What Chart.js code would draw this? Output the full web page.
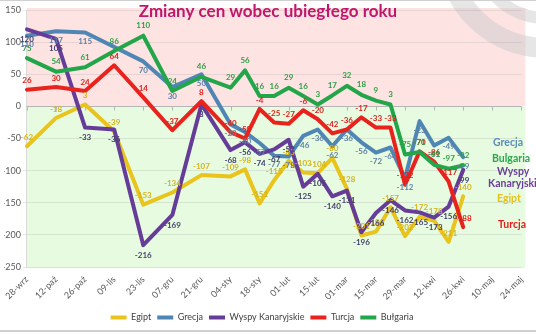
<!DOCTYPE html>
<html lang="pl">
<head>
<meta charset="UTF-8">
<title>Zmiany cen wobec ubiegłego roku</title>
<script src="https://cdn.jsdelivr.net/npm/chart.js@4/dist/chart.umd.min.js"></script>
<style>
  html, body { margin: 0; padding: 0; background: #fff; }
</style>
</head>
<body>
<canvas id="chart" width="536" height="332"></canvas>
<script>
// weekly dates; only every second one gets a tick label
const weeks = ['28-wrz', '05-paź', '12-paź', '19-paź', '26-paź', '02-lis', '09-lis', '16-lis', '23-lis', '30-lis',
  '07-gru', '14-gru', '21-gru', '28-gru', '04-sty', '11-sty', '18-sty', '25-sty', '01-lut', '08-lut',
  '15-lut', '22-lut', '01-mar', '08-mar', '15-mar', '22-mar', '29-mar', '05-kwi', '12-kwi', '19-kwi',
  '26-kwi', '03-maj', '10-maj', '17-maj', '24-maj'];

// values per week (null = no reading that week)
const egipt = [-62, null, -18, null, 3, null, -39, null, -153, null, -134, null, -107, null,
  -109, -98, -151, -115, -85, -103, -104, -80, -128, -201, -195, -157, -202, -172, -178, -211, -140,
  null, null, null, null];
const grecja = [110, null, 117, null, 115, null, null, null, 70, null, 30, null, 50, null,
  -28, -40, -57, -77, -78, -46, -36, -62, -36, -56, -72, -64, -112, -23, -61, -49, -79,
  null, null, null, null];
const wyspy = [120, null, 105, null, -33, null, -36, null, -216, null, -169, null, 3, null,
  -68, -56, -74, -67, -52, -125, -105, -140, -131, -196, -166, -146, -162, -165, -173, -156, -99,
  null, null, null, null];
const turcja = [26, null, 30, null, 24, null, 64, null, 14, null, -37, null, 8, null,
  -40, -50, -4, -25, -27, -6, -20, -42, -36, -17, -33, -33, -122, -70, -86, -117, -188,
  null, null, null, null];
const bulgaria = [75, null, 54, null, 61, null, 86, null, 110, null, 24, null, 46, null,
  29, 56, 16, 16, 29, 16, 3, 17, 32, 18, 9, 3, -75, -71, -91, -97, -92,
  null, null, null, null];

const yTicks = [150, 100, 50, 0, -50, -100, -150, -200, -250];

function line(label, data, color, textColor, labelDy, order) {
  return {
    label, data, order, labelDy, textColor,
    borderColor: color, backgroundColor: color,
    borderWidth: 4, pointRadius: 0, tension: 0,
    borderJoinStyle: 'round', borderCapStyle: 'round',
    spanGaps: true, fill: false
  };
}

// pink / green plot background + the faint grey rings top right
const backdrop = {
  id: 'backdrop',
  beforeDraw(chart) {
    const { ctx, chartArea: a, scales: { y } } = chart;
    const y0 = y.getPixelForValue(0);
    ctx.save();
    ctx.fillStyle = '#fff';
    ctx.fillRect(0, 0, chart.width, chart.height);
    ctx.fillStyle = '#fde4e3';
    ctx.fillRect(a.left, a.top - 2, a.right - a.left + 4, y0 - a.top + 2);
    ctx.fillStyle = '#e6fbe0';
    ctx.fillRect(a.left, y0, a.right - a.left + 4, a.bottom - y0 + 1);
    ctx.strokeStyle = 'rgba(200,200,200,0.45)';
    ctx.lineWidth = 20;
    ctx.beginPath();
    ctx.arc(546, -52, 100, 0, Math.PI);
    ctx.stroke();
    ctx.lineWidth = 12;
    ctx.beginPath();
    ctx.arc(546, -52, 70, 0, Math.PI);
    ctx.stroke();
    // thin frame lines top and bottom
    ctx.fillStyle = '#d0d0d0';
    ctx.fillRect(0, 0, chart.width, 1);
    ctx.fillRect(0, chart.height - 2, chart.width, 2);
    ctx.restore();
  },
  beforeDatasetsDraw(chart) {
    // category axis crosses at zero, with tick marks every two weeks
    const { ctx, chartArea: a, scales: { x, y } } = chart;
    const y0 = Math.round(y.getPixelForValue(0)) + 0.5;
    ctx.save();
    ctx.strokeStyle = '#b5b5b5';
    ctx.lineWidth = 1;
    ctx.beginPath();
    ctx.moveTo(a.left, y0);
    ctx.lineTo(a.right, y0);
    for (let i = 0; i < weeks.length; i += 2) {
      const px = Math.round(x.getPixelForValue(i)) + 0.5;
      ctx.moveTo(px, y0);
      ctx.lineTo(px, y0 + 4);
    }
    ctx.stroke();
    ctx.restore();
  }
};

// value labels next to every reading
const valueLabels = {
  id: 'valueLabels',
  afterDatasetsDraw(chart) {
    const ctx = chart.ctx;
    ctx.save();
    ctx.font = 'bold 8px Lato';
    ctx.textAlign = 'center';
    ctx.textBaseline = 'middle';
    chart.data.datasets.forEach((ds, i) => {
      const meta = chart.getDatasetMeta(i);
      ctx.fillStyle = ds.textColor;
      meta.data.forEach((pt, j) => {
        const v = ds.data[j];
        if (v === null) return;
        ctx.fillText(String(v), pt.x, pt.y + ds.labelDy);
      });
    });
    ctx.restore();
  }
};

// title and the series names on the right
const texts = {
  id: 'texts',
  afterDraw(chart) {
    const ctx = chart.ctx;
    ctx.save();
    ctx.font = 'bold 17px Lato';
    ctx.fillStyle = '#c0166c';
    ctx.textAlign = 'center';
    ctx.textBaseline = 'middle';
    ctx.fillText('Zmiany cen wobec ubiegłego roku', 268, 12);
    ctx.font = 'bold 10.5px Lato';
    ctx.textAlign = 'left';
    const names = [
      ['Grecja', '#5a8bbb', 493, 143],
      ['Bulgaria', '#2aa84a', 492, 159],
      ['Wyspy', '#6a3d9d', 497, 172],
      ['Kanaryjskie', '#6a3d9d', 488, 184],
      ['Egipt', '#e3c21c', 497, 199],
      ['Turcja', '#e0201c', 498, 225]
    ];
    names.forEach(([t, c, px, py]) => {
      ctx.fillStyle = c;
      ctx.fillText(t, px, py);
    });
    ctx.restore();
  }
};

new Chart(document.getElementById('chart'), {
  type: 'line',
  data: {
    labels: weeks,
    datasets: [
      line('Egipt', egipt, '#e8c41c', '#d6b41c', -9, 5),
      line('Grecja', grecja, '#4f86b4', '#5d80a8', 9, 4),
      line('Wyspy Kanaryjskie', wyspy, '#653d98', '#44406c', 10, 3),
      line('Turcja', turcja, '#e8231d', '#e0201b', -9, 2),
      line('Bułgaria', bulgaria, '#23a64a', '#2f9e45', -10, 1)
    ]
  },
  options: {
    responsive: false,
    animation: false,
    layout: { padding: { top: 10, right: 12, bottom: 0, left: 0 } },
    plugins: {
      tooltip: { enabled: false },
      legend: {
        position: 'bottom',
        labels: {
          usePointStyle: true,
          pointStyle: 'line',
          pointStyleWidth: 16,
          boxHeight: 10,
          padding: 6,
          color: '#404040',
          font: { family: 'Lato', size: 9 },
          sort: (a, b) => a.datasetIndex - b.datasetIndex
        }
      }
    },
    scales: {
      x: {
        offset: false,
        grid: { display: false, drawTicks: false },
        border: { display: false },
        ticks: {
          autoSkip: false,
          minRotation: 45,
          maxRotation: 45,
          padding: 7,
          color: '#595959',
          font: { family: 'Lato', size: 9 },
          callback: (v, i) => (i % 2 === 0 ? weeks[i] : '')
        },
        afterFit: s => { s.height = 40; }
      },
      y: {
        min: -250,
        max: 150,
        afterBuildTicks: s => { s.ticks = yTicks.map(v => ({ value: v })); },
        grid: {
          color: ctx => (ctx.tick && ctx.tick.value === 0 ? 'rgba(0,0,0,0)' : 'rgba(150,150,150,0.22)'),
          tickLength: 4
        },
        border: { color: '#d9d9d9' },
        ticks: {
          padding: 2,
          color: '#595959',
          font: { family: 'Lato', size: 9 }
        },
        afterFit: s => { s.width = 23; }
      }
    }
  },
  plugins: [backdrop, valueLabels, texts]
});
</script>
</body>
</html>
